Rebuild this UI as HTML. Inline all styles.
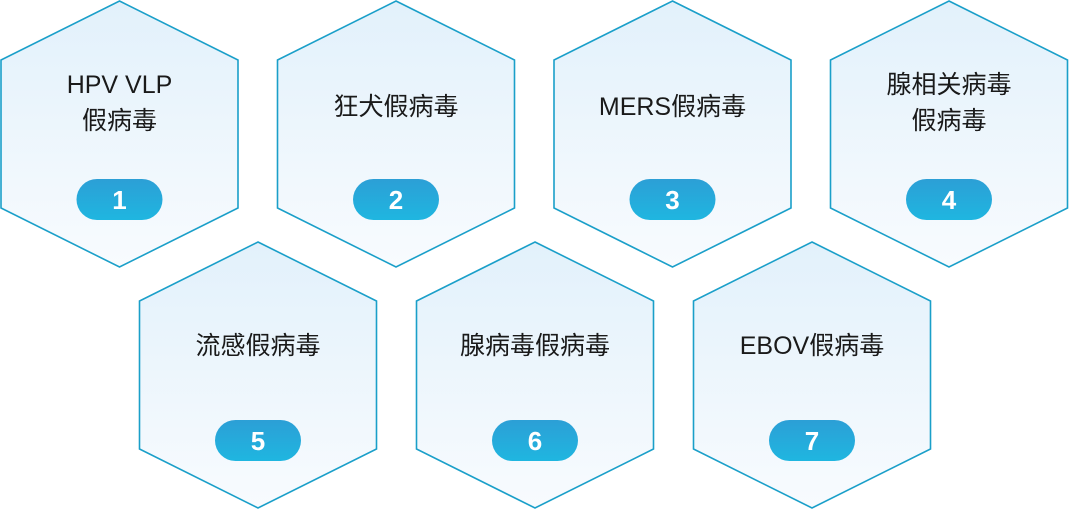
<!DOCTYPE html>
<html><head><meta charset="utf-8"><style>
body{margin:0;background:#fff;}
svg text{font-family:"Liberation Sans","Noto Sans CJK SC",sans-serif;}
</style></head><body>
<svg width="1069" height="510" viewBox="0 0 1069 510" xmlns="http://www.w3.org/2000/svg">
<defs>
<linearGradient id="g" x1="0" y1="0" x2="0" y2="1"><stop offset="0" stop-color="#e2f1fb"/><stop offset="1" stop-color="#f8fbfe"/></linearGradient>
<linearGradient id="p" x1="0" y1="0" x2="0" y2="1"><stop offset="0" stop-color="#2c9fd6"/><stop offset="1" stop-color="#1fb6e0"/></linearGradient>
<g id="h"><polygon points="0,-133 118.5,-74 118.5,74 0,133 -118.5,74 -118.5,-74" fill="url(#g)" stroke="#1a9fc9" stroke-width="1.6"/><rect x="-43" y="45" width="86" height="41" rx="20.5" fill="url(#p)"/></g>
</defs>
<g font-size="25" fill="#1a1a1a" text-anchor="middle">
<use href="#h" x="119.5" y="134"/>
<use href="#h" x="396" y="134"/>
<use href="#h" x="672.5" y="134"/>
<use href="#h" x="949" y="134"/>
<use href="#h" x="258" y="375"/>
<use href="#h" x="535" y="375"/>
<use href="#h" x="812" y="375"/>
<text x="119.5" y="93">HPV VLP</text><text x="119.5" y="129">假病毒</text>
<text x="396" y="115">狂犬假病毒</text>
<text x="672.5" y="115">MERS假病毒</text>
<text x="949" y="93">腺相关病毒</text><text x="949" y="129">假病毒</text>
<text x="258" y="354">流感假病毒</text>
<text x="535" y="354">腺病毒假病毒</text>
<text x="812" y="354">EBOV假病毒</text>
</g>
<g font-size="26" font-weight="bold" fill="#fff" text-anchor="middle">
<text x="119.5" y="209">1</text><text x="396" y="209">2</text><text x="672.5" y="209">3</text><text x="949" y="209">4</text>
<text x="258" y="450">5</text><text x="535" y="450">6</text><text x="812" y="450">7</text>
</g>
</svg>
</body></html>
